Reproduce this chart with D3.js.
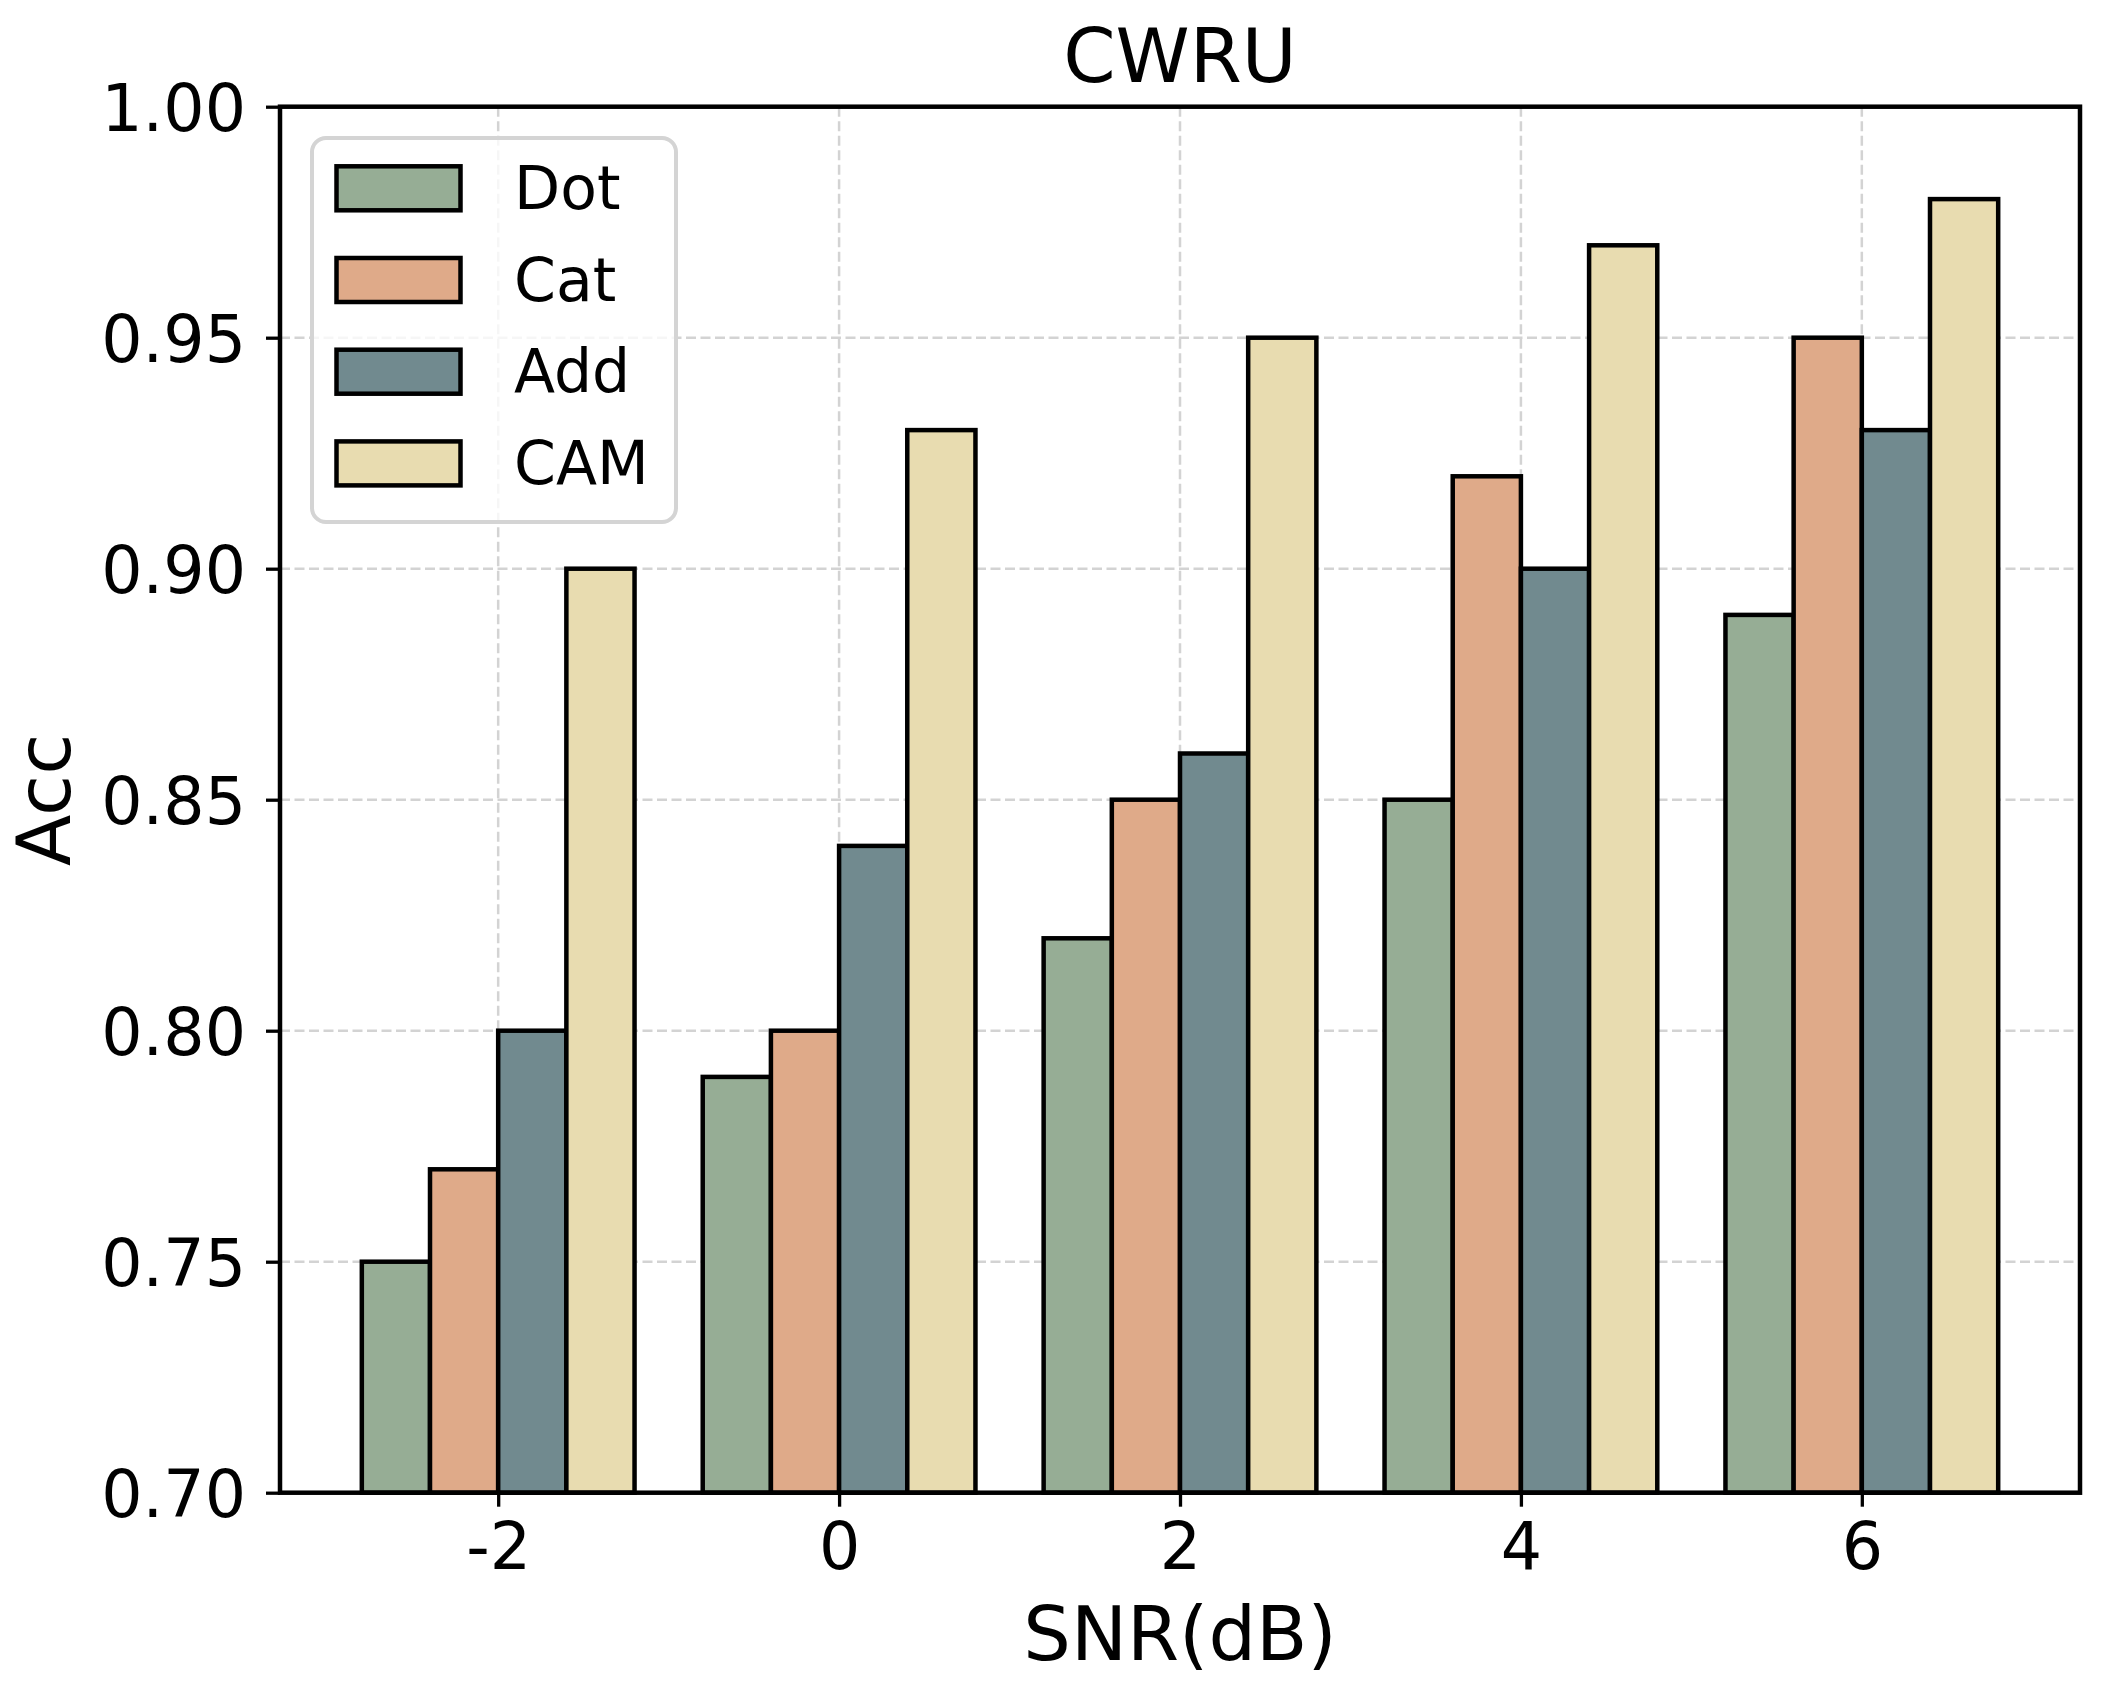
<!DOCTYPE html>
<html>
<head>
<meta charset="utf-8">
<script src="https://cdn.jsdelivr.net/npm/d3@7"></script>
<style>
  body { margin: 0; background: #fff; }
  svg { display: block; }
  text { font-family: "DejaVu Sans", sans-serif; fill: #000; }
</style>
</head>
<body>
<svg id="chart"></svg>
<script>
// Chart data
const snrLabels = ['-2', '0', '2', '4', '6'];
const methods = ['Dot', 'Cat', 'Add', 'CAM'];
const dotAcc = [0.75, 0.79, 0.82, 0.85, 0.89];
const catAcc = [0.77, 0.80, 0.85, 0.92, 0.95];
const addAcc = [0.80, 0.84, 0.86, 0.90, 0.93];
const camAcc = [0.90, 0.93, 0.95, 0.97, 0.98];
const yTicks = [0.70, 0.75, 0.80, 0.85, 0.90, 0.95, 1.00];

const seriesValues = [dotAcc, catAcc, addAcc, camAcc];
const COLORS = ['#96ad95', '#dfaa89', '#718a8f', '#e8dcb0'];

// Figure dimensions
const WIDTH = 2104;
const HEIGHT = 1681;
const PLOT_LEFT = 280;
const PLOT_RIGHT = 2080;
const PLOT_TOP = 106.7;
const PLOT_BOTTOM = 1492.7;

const BAR_WIDTH = 0.2;
const EDGE_WIDTH = 4.5;
const FONT_TICK = 65;
const FONT_LABEL = 75;
const FONT_LEGEND = 60;

const svg = d3.select('#chart')
  .attr('width', WIDTH)
  .attr('height', HEIGHT);

// x in index units, padded like matplotlib's default margins
const x = d3.scaleLinear()
  .domain([-0.64, snrLabels.length - 1 + 0.64])
  .range([PLOT_LEFT, PLOT_RIGHT]);

const y = d3.scaleLinear()
  .domain([0.70, 1.00])
  .range([PLOT_BOTTOM, PLOT_TOP]);

// Grid (behind the bars)
const grid = svg.append('g')
  .attr('stroke', '#d3d3d3')
  .attr('stroke-width', 2.5)
  .attr('stroke-dasharray', '10,4.5');

grid.selectAll('line.gx')
  .data(snrLabels)
  .enter()
  .append('line')
  .attr('x1', (d, i) => x(i))
  .attr('x2', (d, i) => x(i))
  .attr('y1', PLOT_TOP)
  .attr('y2', PLOT_BOTTOM);

grid.selectAll('line.gy')
  .data(yTicks)
  .enter()
  .append('line')
  .attr('x1', PLOT_LEFT)
  .attr('x2', PLOT_RIGHT)
  .attr('y1', d => y(d))
  .attr('y2', d => y(d));

// Bars
const bars = svg.append('g');
seriesValues.forEach((values, s) => {
  const offset = (s - 1.5) * BAR_WIDTH;
  bars.selectAll(`rect.s${s}`)
    .data(values)
    .enter()
    .append('rect')
    .attr('class', `s${s}`)
    .attr('x', (d, i) => x(i + offset - BAR_WIDTH / 2))
    .attr('y', d => y(d))
    .attr('width', x(BAR_WIDTH) - x(0))
    .attr('height', d => y(0.70) - y(d))
    .attr('fill', COLORS[s])
    .attr('stroke', '#000')
    .attr('stroke-width', EDGE_WIDTH);
});

// Frame
svg.append('rect')
  .attr('x', PLOT_LEFT)
  .attr('y', PLOT_TOP)
  .attr('width', PLOT_RIGHT - PLOT_LEFT)
  .attr('height', PLOT_BOTTOM - PLOT_TOP)
  .attr('fill', 'none')
  .attr('stroke', '#000')
  .attr('stroke-width', EDGE_WIDTH);

// Axes
const xAxis = d3.axisBottom(x)
  .tickValues(d3.range(snrLabels.length))
  .tickFormat(i => snrLabels[i])
  .tickSize(14)
  .tickPadding(16);

const yAxis = d3.axisLeft(y)
  .tickValues(yTicks)
  .tickFormat(d3.format('.2f'))
  .tickSize(14)
  .tickPadding(20);

const gx = svg.append('g')
  .attr('transform', `translate(0, ${PLOT_BOTTOM})`)
  .call(xAxis);
const gy = svg.append('g')
  .attr('transform', `translate(${PLOT_LEFT}, 0)`)
  .call(yAxis);

[gx, gy].forEach(g => {
  g.select('.domain').remove();
  g.selectAll('.tick line').attr('stroke', '#000').attr('stroke-width', 3.3);
  g.selectAll('.tick text')
    .style('font-family', '"DejaVu Sans", sans-serif')
    .style('font-size', `${FONT_TICK}px`)
    .attr('fill', '#000');
});
gy.selectAll('.tick text').attr('dy', '0.36em');

// Title and axis labels
svg.append('text')
  .attr('x', (PLOT_LEFT + PLOT_RIGHT) / 2)
  .attr('y', 82)
  .attr('text-anchor', 'middle')
  .style('font-size', `${FONT_LABEL}px`)
  .text('CWRU');

svg.append('text')
  .attr('x', (PLOT_LEFT + PLOT_RIGHT) / 2)
  .attr('y', 1660)
  .attr('text-anchor', 'middle')
  .style('font-size', `${FONT_LABEL}px`)
  .text('SNR(dB)');

svg.append('text')
  .attr('transform', `translate(70, ${(PLOT_TOP + PLOT_BOTTOM) / 2}) rotate(-90)`)
  .attr('text-anchor', 'middle')
  .style('font-size', `${FONT_LABEL}px`)
  .text('Acc');

// Legend
const LEGEND_X = 312;
const LEGEND_Y = 138;
const ROW_H = 91.7;
const legend = svg.append('g')
  .attr('transform', `translate(${LEGEND_X}, ${LEGEND_Y})`);

legend.append('rect')
  .attr('width', 364)
  .attr('height', 384)
  .attr('rx', 14)
  .attr('fill', 'rgba(255,255,255,0.8)')
  .attr('stroke', '#d4d4d4')
  .attr('stroke-width', 4);

const rows = legend.selectAll('g.row')
  .data(methods)
  .enter()
  .append('g')
  .attr('transform', (d, i) => `translate(0, ${50.3 + i * ROW_H})`);

rows.append('rect')
  .attr('x', 24.5)
  .attr('y', -22)
  .attr('width', 124)
  .attr('height', 44)
  .attr('fill', (d, i) => COLORS[i])
  .attr('stroke', '#000')
  .attr('stroke-width', EDGE_WIDTH);

rows.append('text')
  .attr('x', 202)
  .attr('dy', '0.345em')
  .style('font-size', `${FONT_LEGEND}px`)
  .text(d => d);
</script>
</body>
</html>
